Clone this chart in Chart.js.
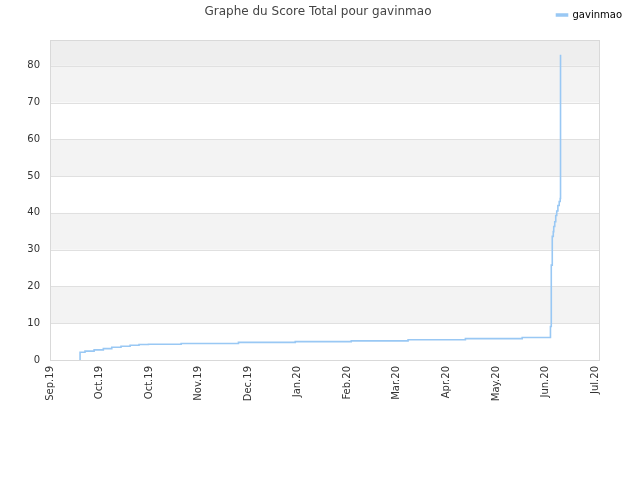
<!DOCTYPE html>
<html>
<head>
<meta charset="utf-8">
<script src="https://cdn.jsdelivr.net/npm/chart.js@4/dist/chart.umd.min.js"></script>
<style>
  html, body { margin: 0; padding: 0; background: #fff; }
  #graphe { display: block; }
</style>
</head>
<body>
<canvas id="graphe" width="640" height="480"></canvas>
<script>
  "use strict";

  // jours depuis le 1er sept. 2019
  const jours = [18.2, 18.2, 21.2, 26.7, 32.3, 37.4, 43, 48.5, 53.9, 59.6, 79.4, 114.1, 148.5,
    182.4, 216.8, 251.5, 285.9, 303, 303.5, 304.1, 304.7, 305.0, 305.6, 306.2, 306.8, 307.5,
    308.3, 308.9, 309.1];
  const scores = [0, 2.1, 2.4, 2.75, 3.1, 3.45, 3.75, 4.0, 4.2, 4.3, 4.5, 4.8, 5.0,
    5.2, 5.5, 5.8, 6.1, 9.1, 25.8, 33.6, 34.9, 36.3, 37.6, 39.3, 40.5, 42.0,
    43.1, 43.9, 83.0];
  const etiquettesX = ["Sep.19", "Oct.19", "Oct.19", "Nov.19", "Dec.19", "Jan.20", "Feb.20",
    "Mar.20", "Apr.20", "May.20", "Jun.20", "Jul.20"];
  const ticksY = [0, 10, 20, 30, 40, 50, 60, 70, 80];
  const nomJoueur = "gavinmao";
  const titre = "Graphe du Score Total pour gavinmao";

  const police = "'DejaVu Sans', Verdana, sans-serif";

  // bandes alternées + cadre
  const fondBandes = {
    id: "fondBandes",
    beforeDatasetsDraw(chart) {
      const { ctx, chartArea: a, scales: { y } } = chart;
      ctx.save();
      for (let v = 10; v < 80; v += 20) {
        const y1 = y.getPixelForValue(v + 10);
        const y0 = y.getPixelForValue(v);
        ctx.fillStyle = "#f3f3f3";
        ctx.fillRect(a.left, y1, a.right - a.left, y0 - y1);
      }
      const yTop = y.getPixelForValue(80);
      ctx.fillStyle = "#eeeeee";
      ctx.fillRect(a.left, a.top, a.right - a.left, yTop - a.top);
      ctx.strokeStyle = "#e0e0e0";
      ctx.lineWidth = 1;
      for (let v = 10; v <= 80; v += 10) {
        const py = Math.round(y.getPixelForValue(v)) + 0.5;
        ctx.beginPath();
        ctx.moveTo(a.left, py);
        ctx.lineTo(a.right, py);
        ctx.stroke();
      }
      ctx.strokeStyle = "#d9d9d9";
      ctx.strokeRect(Math.round(a.left) + 0.5, Math.round(a.top) + 0.5,
        Math.round(a.right - a.left) - 1, Math.round(a.bottom - a.top));
      ctx.restore();
    },
    afterDraw(chart) {
      const ctx = chart.ctx;
      ctx.save();
      ctx.font = "12px " + police;
      ctx.fillStyle = "#444";
      ctx.textAlign = "center";
      ctx.textBaseline = "middle";
      ctx.fillText(titre, 318, 12);
      ctx.restore();
    },
  };

  const couleur = "#99c8f4";

  // axe vide qui sert juste de marge
  function marge(position, taille) {
    return {
      position,
      display: true,
      grid: { display: false },
      border: { display: false },
      ticks: { display: false },
      afterFit(s) {
        if (s.isHorizontal()) s.height = taille;
        else s.width = taille;
      },
    };
  }

  new Chart(document.getElementById("graphe").getContext("2d"), {
    type: "line",
    data: {
      labels: jours,
      datasets: [
        {
          label: nomJoueur,
          data: jours.map((j, i) => ({ x: j, y: scores[i] })),
          borderColor: couleur,
          backgroundColor: couleur,
          borderWidth: 1.6,
          stepped: true,
          pointRadius: 0,
          fill: false,
        },
      ],
    },
    options: {
      responsive: false,
      animation: false,
      devicePixelRatio: 1,
      layout: { padding: { top: 0, left: 0, right: 8, bottom: 0 } },
      plugins: {
        legend: {
          position: "top",
          align: "end",
          labels: {
            boxWidth: 11,
            boxHeight: 2,
            padding: 10,
            color: "#000",
            font: { family: police, size: 10 },
          },
        },
        tooltip: { enabled: false },
      },
      scales: {
        x: {
          type: "linear",
          min: 0,
          max: 333,
          grid: { display: false, drawTicks: false },
          border: { display: false },
          afterBuildTicks(s) {
            s.ticks = etiquettesX.map((_, i) => ({ value: i * 30 }));
          },
          afterFit(s) {
            s.height = 120;
          },
          ticks: {
            autoSkip: false,
            minRotation: 90,
            maxRotation: 90,
            padding: 6,
            color: "#333",
            font: { family: police, size: 10 },
            callback: (v) => etiquettesX[Math.round(v / 30)],
          },
        },
        y: {
          min: 0,
          max: 87,
          grid: { display: false, drawTicks: false },
          border: { display: false },
          afterBuildTicks(s) {
            s.ticks = ticksY.map((v) => ({ value: v }));
          },
          afterFit(s) {
            s.width = 50;
          },
          ticks: {
            autoSkip: false,
            padding: 10,
            color: "#333",
            font: { family: police, size: 10 },
          },
        },
        margeDroite: marge("right", 32),
        margeHaut: { ...marge("top", 10), axis: "x" },
      },
    },
    plugins: [fondBandes],
  });
</script>
</body>
</html>
